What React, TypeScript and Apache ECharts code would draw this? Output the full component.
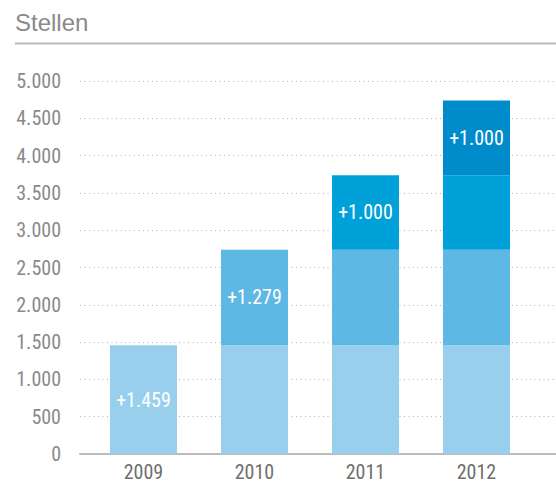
import React, { useEffect, useRef } from "react";
import * as echarts from "echarts";

const years = ["2009", "2010", "2011", "2012"];
const increments = [1459, 1279, 1000, 1000];
const segmentColors = ["#97cfed", "#5db8e4", "#00a0d8", "#008ccb"];
const yTicks = { min: 0, max: 5000, interval: 500 };
const title = "Stellen";

const fmt = (v: number) => Math.round(v).toLocaleString("de-DE");
const numFont = "'Liberation Sans Narrow', 'Roboto Condensed', Roboto, sans-serif";

export default function App() {
  const ref = useRef<HTMLDivElement>(null);
  useEffect(() => {
    document.body.style.margin = "0";
    const chart = echarts.init(ref.current!, undefined, { renderer: "svg" });
    const series = increments.map((inc, k) => ({
      type: "bar",
      stack: "total",
      xAxisIndex: 0,
      yAxisIndex: 0,
      barWidth: 67,
      itemStyle: { color: segmentColors[k] },
      data: years.map((_, i) =>
        i >= k
          ? {
              value: inc,
              label: {
                show: i === k,
                position: "inside",
                formatter: "+" + fmt(inc),
                color: "#ffffff",
                fontSize: 20,
                fontFamily: numFont,
              },
            }
          : null
      ),
    }));
    chart.setOption({
      animation: false,
      graphic: [
        {
          type: "text",
          left: 15,
          top: 10,
          style: {
            text: title,
            fontSize: 24,
            fontFamily: "'Liberation Sans', Arial, sans-serif",
            fill: "#8a8a8a",
          },
        },
        {
          type: "line",
          shape: { x1: 15, y1: 43.5, x2: 556, y2: 43.5 },
          style: { stroke: "#bcbcbc", lineWidth: 2 },
        },
      ],
      grid: [
        { left: 88, right: 24, top: 81, bottom: 33 },
        { left: 80, right: 0, top: 81, bottom: 33 },
      ],
      xAxis: [
        {
          type: "category",
          gridIndex: 0,
          data: years,
          axisLine: { show: false },
          axisTick: { show: false },
          axisLabel: {
            color: "#6e6e6e",
            fontSize: 20,
            fontFamily: numFont,
            margin: 8,
          },
        },
        {
          type: "category",
          gridIndex: 1,
          data: [""],
          axisLine: { show: true, lineStyle: { color: "#bcbcbc", width: 2 } },
          axisTick: { show: false },
          axisLabel: { show: false },
        },
      ],
      yAxis: [
        {
          type: "value",
          gridIndex: 0,
          min: yTicks.min,
          max: yTicks.max,
          interval: yTicks.interval,
          splitLine: { show: false },
          axisLine: { show: false },
          axisTick: { show: false },
          axisLabel: {
            color: "#8a8a8a",
            fontSize: 20,
            fontFamily: numFont,
            margin: 27,
            formatter: (v: number) => fmt(v),
          },
        },
        {
          type: "value",
          gridIndex: 1,
          min: yTicks.min,
          max: yTicks.max,
          interval: yTicks.interval,
          axisLine: { show: false },
          axisTick: { show: false },
          axisLabel: { show: false },
          splitLine: {
            show: true,
            lineStyle: { color: "#b0b0b0", width: 1, type: [1, 3.5] },
          },
        },
      ],
      series,
    });
    return () => chart.dispose();
  }, []);
  return <div ref={ref} style={{ width: 556, height: 487 }} />;
}
